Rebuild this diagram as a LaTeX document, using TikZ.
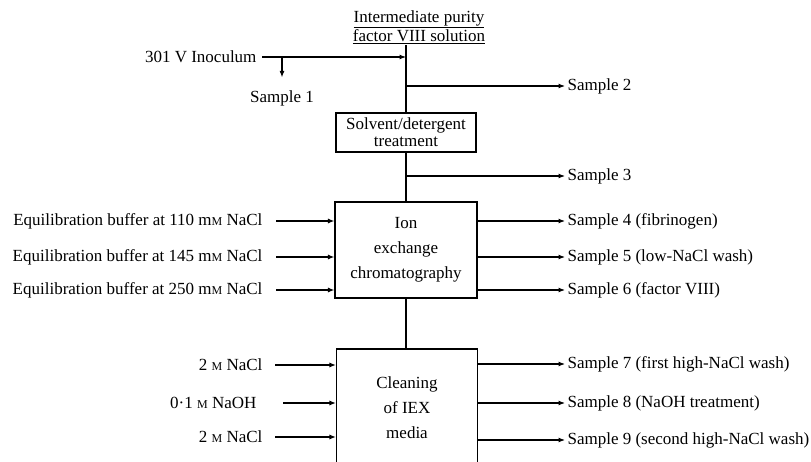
\documentclass[tikz,border=0pt]{standalone}
\usepackage{fontspec}
\setmainfont{Liberation Serif}
\usetikzlibrary{arrows.meta}
\newcommand{\smallM}{{\fontsize{12}{12}\selectfont M}}% small capital M (molar)
\tikzset{
	flow chart/.style={
		x=1pt,y=-1pt,
		line width=1.1pt,
		font=\fontsize{17}{19}\selectfont,
		flow/.style={
			-{Latex[length=6.5pt,width=5pt]}
		}
	},
	stage/.style={
		rectangle,
		draw,
		align=center,
		inner sep=2pt
	},
	feed/.style={
		anchor=east,
		inner sep=2pt
	},
	sample/.style={
		anchor=west,
		inner sep=2pt
	},
	heading/.style={
		align=center,
		inner sep=1pt
	}
}

\begin{document}
\begin{tikzpicture}[flow chart]
		\path[use as bounding box,clip] (0,0) rectangle (811,462);
		% main column
		\node[heading] (start) at (419,27) {\underline{Intermediate purity}\\\underline{factor VIII solution}};
		\node[stage,minimum width=140pt,minimum height=39pt] (solv) at (406,132.5) {Solvent/detergent\\[-2pt]treatment};
		\node[stage,minimum width=142pt,minimum height=96pt] (iex) at (406,250) {Ion\\[6pt]exchange\\[6pt]chromatography};
		\node[stage,minimum width=141pt,minimum height=118pt] (clean) at (407,408) {Cleaning\\[6pt]of IEX\\[6pt]media};
		\draw (start.south -| solv.north) -- (solv.north);
		\draw (solv) -- (iex);
		\draw (iex.south) -- (iex.south |- clean.north);
		% inoculum and sample 1
		\node[feed] (inoc) at (259,57) {301 V Inoculum};
		\coordinate (in0) at (solv.north |- inoc.east);
		\coordinate (b1) at (282,57);
		\node (samp1) at (282,98) {Sample 1};
		\draw[flow,shorten <=3pt] (inoc) -- (in0);
		\draw[flow,shorten >=9pt] (b1) -- (samp1);
		% samples from the main line
		\coordinate (b2) at (406,86);
		\coordinate (b3) at (406,176);
		\node[sample] (samp2) at (565,86) {Sample 2};
		\node[sample] (samp3) at (565,176) {Sample 3};
		\draw[flow] (b2) -- (samp2);
		\draw[flow] (b3) -- (samp3);
		% ion exchange chromatography
		\node[feed] (eq1) at (265,221) {Equilibration buffer at 110 m\smallM\ NaCl};
		\node[feed] (eq2) at (265,257) {Equilibration buffer at 145 m\smallM\ NaCl};
		\node[feed] (eq3) at (265,290) {Equilibration buffer at 250 m\smallM\ NaCl};
		\draw[flow,shorten <=11pt] (eq1) -- (eq1 -| iex.west);
		\draw[flow,shorten <=11pt] (eq2) -- (eq2 -| iex.west);
		\draw[flow,shorten <=11pt] (eq3) -- (eq3 -| iex.west);
		\node[sample] (samp4) at (565,221) {Sample 4 (fibrinogen)};
		\node[sample] (samp5) at (565,257) {Sample 5 (low-NaCl wash)};
		\node[sample] (samp6) at (565,290) {Sample 6 (factor VIII)};
		\draw[flow] (samp4 -| iex.east) -- (samp4);
		\draw[flow] (samp5 -| iex.east) -- (samp5);
		\draw[flow] (samp6 -| iex.east) -- (samp6);
		% cleaning of the IEX media
		\node[feed] (cl1) at (265,365) {2 \smallM\ NaCl};
		\node[feed] (cl2) at (259,403) {0·1 \smallM\ NaOH};
		\node[feed] (cl3) at (265,437) {2 \smallM\ NaCl};
		\draw[flow,shorten <=10pt] (cl1) -- (cl1 -| clean.west);
		\draw[flow,shorten <=24pt] (cl2) -- (cl2 -| clean.west);
		\draw[flow,shorten <=10pt] (cl3) -- (cl3 -| clean.west);
		\node[sample] (samp7) at (565,364) {Sample 7 (first high-NaCl wash)};
		\node[sample] (samp8) at (565,403) {Sample 8 (NaOH treatment)};
		\node[sample] (samp9) at (565,440) {Sample 9 (second high-NaCl wash)};
		\draw[flow] (samp7 -| clean.east) -- (samp7);
		\draw[flow] (samp8 -| clean.east) -- (samp8);
		\draw[flow] (samp9 -| clean.east) -- (samp9);
	\end{tikzpicture}
\end{document}
